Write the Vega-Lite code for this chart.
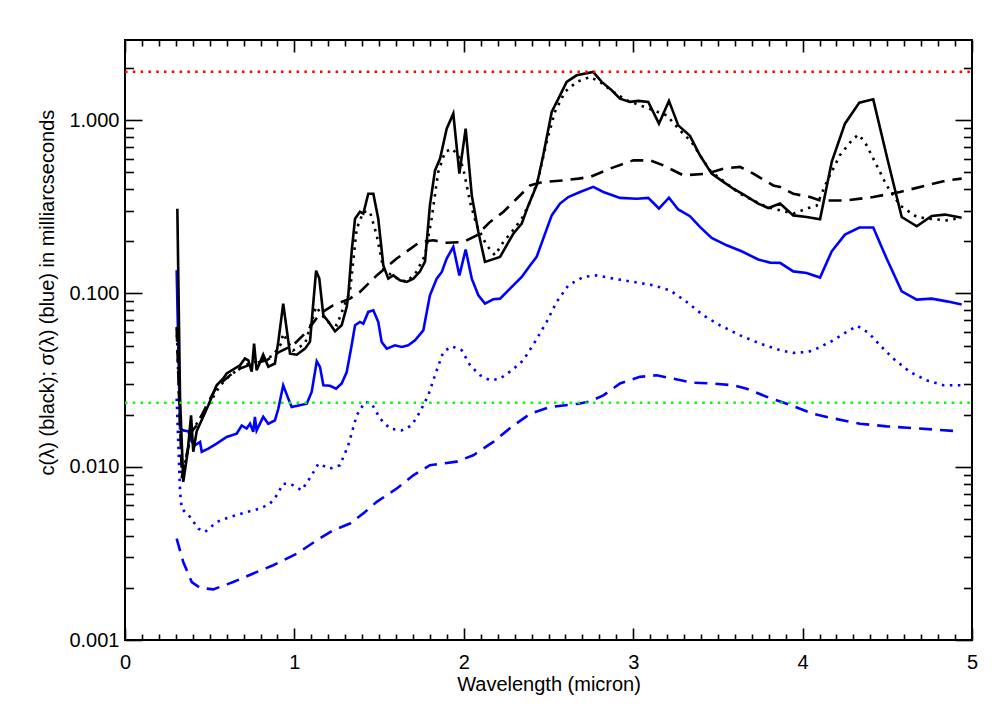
{
  "$schema": "https://vega.github.io/schema/vega-lite/v6.json",
  "width": 847,
  "height": 600,
  "autosize": {"type": "none"},
  "padding": {"left": 125, "top": 40, "right": 36, "bottom": 80},
  "background": "white",
  "config": {
    "view": {"stroke": "black", "strokeWidth": 2},
    "font": "Liberation Sans",
    "axis": {
      "labelFont": "Liberation Sans",
      "titleFont": "Liberation Sans",
      "labelFontSize": 20,
      "titleFontSize": 20,
      "titleFontWeight": "normal",
      "labelColor": "black",
      "titleColor": "black",
      "tickColor": "black",
      "tickWidth": 1.6,
      "grid": false,
      "domain": false,
      "labelOverlap": false,
      "labelFlush": false
    }
  },
  "datasets": {
    "c_solid": [
      {"lam": 0.309, "val": 0.308}, {"lam": 0.325, "val": 0.0247}, {"lam": 0.344, "val": 0.00817},
      {"lam": 0.370, "val": 0.0122}, {"lam": 0.390, "val": 0.0198}, {"lam": 0.403, "val": 0.0122},
      {"lam": 0.423, "val": 0.0160}, {"lam": 0.492, "val": 0.0226}, {"lam": 0.541, "val": 0.0295},
      {"lam": 0.579, "val": 0.0322}, {"lam": 0.600, "val": 0.0345}, {"lam": 0.679, "val": 0.0385},
      {"lam": 0.708, "val": 0.0421}, {"lam": 0.728, "val": 0.0411}, {"lam": 0.748, "val": 0.0354},
      {"lam": 0.762, "val": 0.0513}, {"lam": 0.777, "val": 0.0360}, {"lam": 0.816, "val": 0.0443},
      {"lam": 0.846, "val": 0.0378}, {"lam": 0.885, "val": 0.0394}, {"lam": 0.905, "val": 0.0527},
      {"lam": 0.934, "val": 0.0873}, {"lam": 0.974, "val": 0.0449}, {"lam": 1.014, "val": 0.0443},
      {"lam": 1.063, "val": 0.0480}, {"lam": 1.092, "val": 0.0527}, {"lam": 1.128, "val": 0.1354},
      {"lam": 1.147, "val": 0.1217}, {"lam": 1.171, "val": 0.0747}, {"lam": 1.200, "val": 0.0688},
      {"lam": 1.240, "val": 0.0604}, {"lam": 1.279, "val": 0.0655}, {"lam": 1.309, "val": 0.0839},
      {"lam": 1.318, "val": 0.0975}, {"lam": 1.338, "val": 0.174}, {"lam": 1.358, "val": 0.270},
      {"lam": 1.387, "val": 0.296}, {"lam": 1.407, "val": 0.289}, {"lam": 1.436, "val": 0.376},
      {"lam": 1.466, "val": 0.376}, {"lam": 1.495, "val": 0.270}, {"lam": 1.525, "val": 0.145},
      {"lam": 1.554, "val": 0.1217}, {"lam": 1.584, "val": 0.127}, {"lam": 1.623, "val": 0.119},
      {"lam": 1.663, "val": 0.1165}, {"lam": 1.702, "val": 0.1217}, {"lam": 1.741, "val": 0.1336},
      {"lam": 1.771, "val": 0.1526}, {"lam": 1.800, "val": 0.322}, {"lam": 1.830, "val": 0.513},
      {"lam": 1.860, "val": 0.600}, {"lam": 1.899, "val": 0.893}, {"lam": 1.938, "val": 1.090},
      {"lam": 1.974, "val": 0.491}, {"lam": 2.011, "val": 0.893}, {"lam": 2.047, "val": 0.368},
      {"lam": 2.086, "val": 0.2264}, {"lam": 2.125, "val": 0.152}, {"lam": 2.214, "val": 0.1625},
      {"lam": 2.253, "val": 0.1895}, {"lam": 2.292, "val": 0.221}, {"lam": 2.342, "val": 0.253},
      {"lam": 2.381, "val": 0.322}, {"lam": 2.430, "val": 0.420}, {"lam": 2.469, "val": 0.627},
      {"lam": 2.519, "val": 1.115}, {"lam": 2.568, "val": 1.390}, {"lam": 2.607, "val": 1.661},
      {"lam": 2.666, "val": 1.814}, {"lam": 2.764, "val": 1.897}, {"lam": 2.814, "val": 1.661},
      {"lam": 2.873, "val": 1.486}, {"lam": 2.922, "val": 1.331}, {"lam": 2.981, "val": 1.274},
      {"lam": 3.030, "val": 1.291}, {"lam": 3.089, "val": 1.274}, {"lam": 3.152, "val": 0.954},
      {"lam": 3.211, "val": 1.291}, {"lam": 3.266, "val": 0.933}, {"lam": 3.335, "val": 0.811},
      {"lam": 3.394, "val": 0.627}, {"lam": 3.463, "val": 0.491}, {"lam": 3.532, "val": 0.440},
      {"lam": 3.591, "val": 0.402}, {"lam": 3.660, "val": 0.368}, {"lam": 3.738, "val": 0.330},
      {"lam": 3.798, "val": 0.311}, {"lam": 3.867, "val": 0.330}, {"lam": 3.945, "val": 0.282},
      {"lam": 4.024, "val": 0.276}, {"lam": 4.103, "val": 0.268}, {"lam": 4.172, "val": 0.574},
      {"lam": 4.250, "val": 0.954}, {"lam": 4.335, "val": 1.262}, {"lam": 4.417, "val": 1.318},
      {"lam": 4.500, "val": 0.600}, {"lam": 4.585, "val": 0.276}, {"lam": 4.674, "val": 0.244},
      {"lam": 4.762, "val": 0.280}, {"lam": 4.841, "val": 0.285}, {"lam": 4.939, "val": 0.273}
    ],
    "c_dotted": [
      {"lam": 0.305, "val": 0.0641}, {"lam": 0.335, "val": 0.00854}, {"lam": 0.394, "val": 0.0160},
      {"lam": 0.423, "val": 0.0177}, {"lam": 0.490, "val": 0.0225}, {"lam": 0.561, "val": 0.0294},
      {"lam": 0.620, "val": 0.0336}, {"lam": 0.697, "val": 0.0383}, {"lam": 0.797, "val": 0.0410},
      {"lam": 0.874, "val": 0.0437}, {"lam": 0.921, "val": 0.0513}, {"lam": 0.933, "val": 0.0586},
      {"lam": 0.992, "val": 0.0468}, {"lam": 1.063, "val": 0.0513}, {"lam": 1.128, "val": 0.0839},
      {"lam": 1.191, "val": 0.0688}, {"lam": 1.250, "val": 0.0655}, {"lam": 1.299, "val": 0.0873},
      {"lam": 1.328, "val": 0.1024}, {"lam": 1.368, "val": 0.2366}, {"lam": 1.407, "val": 0.296},
      {"lam": 1.446, "val": 0.296}, {"lam": 1.486, "val": 0.2164}, {"lam": 1.525, "val": 0.139},
      {"lam": 1.582, "val": 0.125}, {"lam": 1.663, "val": 0.1165}, {"lam": 1.722, "val": 0.1336},
      {"lam": 1.771, "val": 0.166}, {"lam": 1.810, "val": 0.270}, {"lam": 1.849, "val": 0.502},
      {"lam": 1.889, "val": 0.655}, {"lam": 1.929, "val": 0.685}, {"lam": 1.968, "val": 0.627},
      {"lam": 1.997, "val": 0.525}, {"lam": 2.037, "val": 0.337}, {"lam": 2.076, "val": 0.247},
      {"lam": 2.135, "val": 0.1895}, {"lam": 2.184, "val": 0.166}, {"lam": 2.233, "val": 0.198},
      {"lam": 2.283, "val": 0.2264}, {"lam": 2.342, "val": 0.270}, {"lam": 2.391, "val": 0.337},
      {"lam": 2.440, "val": 0.4596}, {"lam": 2.489, "val": 0.748}, {"lam": 2.538, "val": 1.115},
      {"lam": 2.597, "val": 1.455}, {"lam": 2.666, "val": 1.661}, {"lam": 2.745, "val": 1.775},
      {"lam": 2.804, "val": 1.661}, {"lam": 2.883, "val": 1.455}, {"lam": 2.962, "val": 1.301},
      {"lam": 3.040, "val": 1.217}, {"lam": 3.119, "val": 1.139}, {"lam": 3.198, "val": 1.066},
      {"lam": 3.276, "val": 0.873}, {"lam": 3.345, "val": 0.748}, {"lam": 3.394, "val": 0.627},
      {"lam": 3.453, "val": 0.513}, {"lam": 3.552, "val": 0.430}, {"lam": 3.631, "val": 0.376},
      {"lam": 3.709, "val": 0.344}, {"lam": 3.788, "val": 0.316}, {"lam": 3.867, "val": 0.3016},
      {"lam": 3.945, "val": 0.2888}, {"lam": 4.034, "val": 0.311}, {"lam": 4.083, "val": 0.321},
      {"lam": 4.142, "val": 0.440}, {"lam": 4.220, "val": 0.627}, {"lam": 4.290, "val": 0.764},
      {"lam": 4.329, "val": 0.825}, {"lam": 4.368, "val": 0.748}, {"lam": 4.427, "val": 0.574},
      {"lam": 4.496, "val": 0.420}, {"lam": 4.575, "val": 0.322}, {"lam": 4.674, "val": 0.276},
      {"lam": 4.772, "val": 0.268}, {"lam": 4.851, "val": 0.264}, {"lam": 4.929, "val": 0.273}
    ],
    "c_dashed": [
      {"lam": 0.305, "val": 0.0625}, {"lam": 0.336, "val": 0.00877}, {"lam": 0.394, "val": 0.0160},
      {"lam": 0.423, "val": 0.0173}, {"lam": 0.482, "val": 0.0226}, {"lam": 0.541, "val": 0.0290},
      {"lam": 0.620, "val": 0.0337}, {"lam": 0.679, "val": 0.0368}, {"lam": 0.756, "val": 0.0394},
      {"lam": 0.836, "val": 0.0411}, {"lam": 0.915, "val": 0.0462}, {"lam": 0.992, "val": 0.0502},
      {"lam": 1.073, "val": 0.0602}, {"lam": 1.151, "val": 0.0764}, {"lam": 1.228, "val": 0.0854},
      {"lam": 1.328, "val": 0.0933}, {"lam": 1.387, "val": 0.102}, {"lam": 1.486, "val": 0.127},
      {"lam": 1.604, "val": 0.159}, {"lam": 1.741, "val": 0.198}, {"lam": 1.820, "val": 0.2025},
      {"lam": 1.899, "val": 0.196}, {"lam": 1.997, "val": 0.198}, {"lam": 2.076, "val": 0.2164},
      {"lam": 2.155, "val": 0.2586}, {"lam": 2.233, "val": 0.295}, {"lam": 2.312, "val": 0.352},
      {"lam": 2.391, "val": 0.420}, {"lam": 2.469, "val": 0.440}, {"lam": 2.587, "val": 0.449},
      {"lam": 2.676, "val": 0.4596}, {"lam": 2.745, "val": 0.470}, {"lam": 2.863, "val": 0.525},
      {"lam": 3.001, "val": 0.586}, {"lam": 3.099, "val": 0.586}, {"lam": 3.178, "val": 0.548},
      {"lam": 3.296, "val": 0.480}, {"lam": 3.434, "val": 0.491}, {"lam": 3.532, "val": 0.525},
      {"lam": 3.631, "val": 0.537}, {"lam": 3.709, "val": 0.491}, {"lam": 3.827, "val": 0.420},
      {"lam": 3.867, "val": 0.412}, {"lam": 3.945, "val": 0.376}, {"lam": 4.044, "val": 0.360},
      {"lam": 4.103, "val": 0.344}, {"lam": 4.260, "val": 0.344}, {"lam": 4.417, "val": 0.360},
      {"lam": 4.575, "val": 0.385}, {"lam": 4.732, "val": 0.420}, {"lam": 4.851, "val": 0.449},
      {"lam": 4.939, "val": 0.4596}
    ],
    "s_solid": [
      {"lam": 0.305, "val": 0.136}, {"lam": 0.325, "val": 0.0166}, {"lam": 0.344, "val": 0.0162},
      {"lam": 0.374, "val": 0.0160}, {"lam": 0.394, "val": 0.0139}, {"lam": 0.413, "val": 0.0133},
      {"lam": 0.443, "val": 0.0139}, {"lam": 0.453, "val": 0.0122}, {"lam": 0.492, "val": 0.0127},
      {"lam": 0.541, "val": 0.0136}, {"lam": 0.600, "val": 0.01486}, {"lam": 0.659, "val": 0.0155},
      {"lam": 0.689, "val": 0.0173}, {"lam": 0.718, "val": 0.0166}, {"lam": 0.738, "val": 0.0177},
      {"lam": 0.757, "val": 0.0159}, {"lam": 0.767, "val": 0.0194}, {"lam": 0.777, "val": 0.0162},
      {"lam": 0.816, "val": 0.0194}, {"lam": 0.846, "val": 0.0177}, {"lam": 0.885, "val": 0.0185},
      {"lam": 0.905, "val": 0.0216}, {"lam": 0.934, "val": 0.0295}, {"lam": 0.964, "val": 0.0247},
      {"lam": 0.984, "val": 0.0221}, {"lam": 1.073, "val": 0.0231}, {"lam": 1.102, "val": 0.0270},
      {"lam": 1.132, "val": 0.0406}, {"lam": 1.151, "val": 0.0377}, {"lam": 1.171, "val": 0.0295},
      {"lam": 1.210, "val": 0.0293}, {"lam": 1.246, "val": 0.0282}, {"lam": 1.279, "val": 0.0302},
      {"lam": 1.309, "val": 0.0352}, {"lam": 1.338, "val": 0.0502}, {"lam": 1.358, "val": 0.0655},
      {"lam": 1.387, "val": 0.0685}, {"lam": 1.407, "val": 0.0669}, {"lam": 1.436, "val": 0.0782},
      {"lam": 1.466, "val": 0.0799}, {"lam": 1.495, "val": 0.0685}, {"lam": 1.515, "val": 0.0525},
      {"lam": 1.545, "val": 0.0480}, {"lam": 1.594, "val": 0.0502}, {"lam": 1.633, "val": 0.0491},
      {"lam": 1.672, "val": 0.0502}, {"lam": 1.712, "val": 0.0536}, {"lam": 1.761, "val": 0.0612},
      {"lam": 1.800, "val": 0.0975}, {"lam": 1.840, "val": 0.1217}, {"lam": 1.870, "val": 0.133},
      {"lam": 1.899, "val": 0.159}, {"lam": 1.938, "val": 0.1855}, {"lam": 1.974, "val": 0.127},
      {"lam": 2.011, "val": 0.179}, {"lam": 2.047, "val": 0.1217}, {"lam": 2.086, "val": 0.0975},
      {"lam": 2.125, "val": 0.0873}, {"lam": 2.174, "val": 0.0925}, {"lam": 2.214, "val": 0.0933},
      {"lam": 2.273, "val": 0.1066}, {"lam": 2.342, "val": 0.1245}, {"lam": 2.391, "val": 0.145},
      {"lam": 2.430, "val": 0.1625}, {"lam": 2.469, "val": 0.207}, {"lam": 2.519, "val": 0.282},
      {"lam": 2.568, "val": 0.330}, {"lam": 2.617, "val": 0.360}, {"lam": 2.686, "val": 0.385},
      {"lam": 2.764, "val": 0.412}, {"lam": 2.824, "val": 0.385}, {"lam": 2.922, "val": 0.356},
      {"lam": 3.021, "val": 0.352}, {"lam": 3.089, "val": 0.356}, {"lam": 3.152, "val": 0.309},
      {"lam": 3.211, "val": 0.357}, {"lam": 3.266, "val": 0.305}, {"lam": 3.335, "val": 0.279},
      {"lam": 3.394, "val": 0.242}, {"lam": 3.463, "val": 0.209}, {"lam": 3.552, "val": 0.1895},
      {"lam": 3.640, "val": 0.175}, {"lam": 3.738, "val": 0.157}, {"lam": 3.808, "val": 0.1506},
      {"lam": 3.867, "val": 0.150}, {"lam": 3.945, "val": 0.134}, {"lam": 4.024, "val": 0.1313},
      {"lam": 4.103, "val": 0.1234}, {"lam": 4.172, "val": 0.175}, {"lam": 4.250, "val": 0.2185},
      {"lam": 4.335, "val": 0.240}, {"lam": 4.417, "val": 0.240}, {"lam": 4.496, "val": 0.159},
      {"lam": 4.585, "val": 0.1028}, {"lam": 4.674, "val": 0.0921}, {"lam": 4.762, "val": 0.0933},
      {"lam": 4.851, "val": 0.090}, {"lam": 4.939, "val": 0.0862}
    ],
    "s_dotted": [
      {"lam": 0.305, "val": 0.0247}, {"lam": 0.325, "val": 0.00718}, {"lam": 0.335, "val": 0.00573},
      {"lam": 0.384, "val": 0.00513}, {"lam": 0.433, "val": 0.00439}, {"lam": 0.472, "val": 0.00420},
      {"lam": 0.541, "val": 0.00480}, {"lam": 0.620, "val": 0.00513}, {"lam": 0.718, "val": 0.00548},
      {"lam": 0.797, "val": 0.00573}, {"lam": 0.856, "val": 0.00612}, {"lam": 0.896, "val": 0.00684},
      {"lam": 0.934, "val": 0.00798}, {"lam": 0.974, "val": 0.00798}, {"lam": 1.043, "val": 0.00731},
      {"lam": 1.102, "val": 0.00892}, {"lam": 1.141, "val": 0.0104}, {"lam": 1.210, "val": 0.00975},
      {"lam": 1.269, "val": 0.0102}, {"lam": 1.318, "val": 0.0133}, {"lam": 1.368, "val": 0.0198},
      {"lam": 1.417, "val": 0.0237}, {"lam": 1.456, "val": 0.0231}, {"lam": 1.505, "val": 0.0190},
      {"lam": 1.564, "val": 0.0166}, {"lam": 1.633, "val": 0.0162}, {"lam": 1.692, "val": 0.0173},
      {"lam": 1.741, "val": 0.0207}, {"lam": 1.790, "val": 0.0258}, {"lam": 1.830, "val": 0.0337},
      {"lam": 1.879, "val": 0.0460}, {"lam": 1.929, "val": 0.0495}, {"lam": 1.988, "val": 0.0470},
      {"lam": 2.037, "val": 0.0385}, {"lam": 2.096, "val": 0.0337}, {"lam": 2.155, "val": 0.0315},
      {"lam": 2.214, "val": 0.0322}, {"lam": 2.283, "val": 0.0360}, {"lam": 2.351, "val": 0.0411},
      {"lam": 2.420, "val": 0.0525}, {"lam": 2.489, "val": 0.0685}, {"lam": 2.548, "val": 0.0893},
      {"lam": 2.617, "val": 0.1114}, {"lam": 2.706, "val": 0.1245}, {"lam": 2.785, "val": 0.127},
      {"lam": 2.883, "val": 0.1217}, {"lam": 3.001, "val": 0.1165}, {"lam": 3.119, "val": 0.1114},
      {"lam": 3.217, "val": 0.1042}, {"lam": 3.316, "val": 0.0893}, {"lam": 3.414, "val": 0.0747},
      {"lam": 3.512, "val": 0.0655}, {"lam": 3.631, "val": 0.0573}, {"lam": 3.749, "val": 0.0513},
      {"lam": 3.867, "val": 0.0470}, {"lam": 3.945, "val": 0.0454}, {"lam": 4.034, "val": 0.0460},
      {"lam": 4.083, "val": 0.0480}, {"lam": 4.181, "val": 0.0536}, {"lam": 4.260, "val": 0.0600},
      {"lam": 4.323, "val": 0.0649}, {"lam": 4.388, "val": 0.0594}, {"lam": 4.457, "val": 0.0502},
      {"lam": 4.535, "val": 0.0421}, {"lam": 4.634, "val": 0.0352}, {"lam": 4.732, "val": 0.0315},
      {"lam": 4.831, "val": 0.0295}, {"lam": 4.939, "val": 0.0295}
    ],
    "s_dashed": [
      {"lam": 0.305, "val": 0.00385}, {"lam": 0.344, "val": 0.00282}, {"lam": 0.394, "val": 0.00216},
      {"lam": 0.443, "val": 0.00200}, {"lam": 0.521, "val": 0.00196}, {"lam": 0.639, "val": 0.00216},
      {"lam": 0.757, "val": 0.00242}, {"lam": 0.875, "val": 0.00270}, {"lam": 1.014, "val": 0.00315},
      {"lam": 1.132, "val": 0.00376}, {"lam": 1.230, "val": 0.00430}, {"lam": 1.328, "val": 0.00470},
      {"lam": 1.417, "val": 0.00548}, {"lam": 1.486, "val": 0.00627}, {"lam": 1.604, "val": 0.00748},
      {"lam": 1.702, "val": 0.00892}, {"lam": 1.800, "val": 0.0102}, {"lam": 1.958, "val": 0.0107},
      {"lam": 2.056, "val": 0.01164}, {"lam": 2.174, "val": 0.0139}, {"lam": 2.283, "val": 0.0170},
      {"lam": 2.391, "val": 0.0202}, {"lam": 2.509, "val": 0.0221}, {"lam": 2.676, "val": 0.0231},
      {"lam": 2.745, "val": 0.0238}, {"lam": 2.824, "val": 0.0258}, {"lam": 2.922, "val": 0.0302},
      {"lam": 3.040, "val": 0.0330}, {"lam": 3.139, "val": 0.0337}, {"lam": 3.237, "val": 0.0322},
      {"lam": 3.355, "val": 0.0305}, {"lam": 3.473, "val": 0.0302}, {"lam": 3.591, "val": 0.0295},
      {"lam": 3.670, "val": 0.0282}, {"lam": 3.788, "val": 0.0253}, {"lam": 3.906, "val": 0.0231},
      {"lam": 4.063, "val": 0.0202}, {"lam": 4.181, "val": 0.0190}, {"lam": 4.339, "val": 0.0177},
      {"lam": 4.496, "val": 0.0171}, {"lam": 4.653, "val": 0.0167}, {"lam": 4.890, "val": 0.0161}
    ],
    "upper_limit": [{"lam": 0, "val": 1.905}, {"lam": 5, "val": 1.905}],
    "lower_limit": [{"lam": 0, "val": 0.0234}, {"lam": 5, "val": 0.0234}]
  },
  "layer": [
    {
      "encoding": {
        "x": {
          "field": "lam",
          "type": "quantitative",
          "scale": {"domain": [0, 5], "nice": false, "zero": false},
          "axis": {
            "orient": "bottom",
            "values": [0,0.1,0.2,0.3,0.4,0.5,0.6,0.7,0.8,0.9,1,1.1,1.2,1.3,1.4,1.5,1.6,1.7,1.8,1.9,2,2.1,2.2,2.3,2.4,2.5,2.6,2.7,2.8,2.9,3,3.1,3.2,3.3,3.4,3.5,3.6,3.7,3.8,3.9,4,4.1,4.2,4.3,4.4,4.5,4.6,4.7,4.8,4.9,5],
            "tickSize": {"condition": {"test": "abs(datum.value - round(datum.value)) < 0.001", "value": -12}, "value": -6},
            "labelExpr": "abs(datum.value - round(datum.value)) < 0.001 ? format(datum.value, 'd') : ''",
            "labelPadding": 40,
            "labelBaseline": "alphabetic",
            "title": "Wavelength (micron)",
            "titleY": 50,
            "titleBaseline": "alphabetic"
          }
        },
        "y": {
          "field": "val",
          "type": "quantitative",
          "scale": {"type": "log", "domain": [0.001, 2.9], "nice": false},
          "axis": {
            "orient": "left",
            "values": [0.001,0.002,0.003,0.004,0.005,0.006,0.007,0.008,0.009,0.01,0.02,0.03,0.04,0.05,0.06,0.07,0.08,0.09,0.1,0.2,0.3,0.4,0.5,0.6,0.7,0.8,0.9,1,2],
            "tickSize": {"condition": {"test": "abs(log(datum.value)/LN10 - round(log(datum.value)/LN10)) < 0.001", "value": -17}, "value": -8.5},
            "labelExpr": "abs(log(datum.value)/LN10 - round(log(datum.value)/LN10)) < 0.001 ? format(datum.value, '.3f') : ''",
            "labelPadding": 23,
            "title": "c(λ) (black); σ(λ) (blue) in milliarcseconds",
            "titleX": -72,
            "titleY": 252,
            "titleBaseline": "alphabetic"
          }
        }
      },
      "layer": [
        {"data": {"name": "s_dashed"}, "mark": {"type": "line", "stroke": "#0000ff", "strokeWidth": 2.6, "strokeDash": [13, 8]}},
        {"data": {"name": "s_dotted"}, "mark": {"type": "line", "stroke": "#0000ff", "strokeWidth": 2.6, "strokeDash": [2.5, 5.5]}},
        {"data": {"name": "s_solid"}, "mark": {"type": "line", "stroke": "#0000ff", "strokeWidth": 2.6}},
        {"data": {"name": "c_dashed"}, "mark": {"type": "line", "stroke": "black", "strokeWidth": 2.6, "strokeDash": [13, 8]}},
        {"data": {"name": "c_dotted"}, "mark": {"type": "line", "stroke": "black", "strokeWidth": 2.6, "strokeDash": [2.5, 5.5]}},
        {"data": {"name": "c_solid"}, "mark": {"type": "line", "stroke": "black", "strokeWidth": 2.6}}
      ]
    },
    {
      "encoding": {
        "x": {
          "field": "lam",
          "type": "quantitative",
          "axis": {
            "orient": "top",
            "values": [0,0.1,0.2,0.3,0.4,0.5,0.6,0.7,0.8,0.9,1,1.1,1.2,1.3,1.4,1.5,1.6,1.7,1.8,1.9,2,2.1,2.2,2.3,2.4,2.5,2.6,2.7,2.8,2.9,3,3.1,3.2,3.3,3.4,3.5,3.6,3.7,3.8,3.9,4,4.1,4.2,4.3,4.4,4.5,4.6,4.7,4.8,4.9,5],
            "tickSize": {"condition": {"test": "abs(datum.value - round(datum.value)) < 0.001", "value": -12}, "value": -6},
            "labels": false,
            "title": null
          }
        },
        "y": {
          "field": "val",
          "type": "quantitative",
          "axis": {
            "orient": "right",
            "values": [0.001,0.002,0.003,0.004,0.005,0.006,0.007,0.008,0.009,0.01,0.02,0.03,0.04,0.05,0.06,0.07,0.08,0.09,0.1,0.2,0.3,0.4,0.5,0.6,0.7,0.8,0.9,1,2],
            "tickSize": {"condition": {"test": "abs(log(datum.value)/LN10 - round(log(datum.value)/LN10)) < 0.001", "value": -17}, "value": -8.5},
            "labels": false,
            "title": null
          }
        }
      },
      "layer": [
        {"data": {"name": "upper_limit"}, "mark": {"type": "line", "stroke": "#ff0000", "strokeWidth": 2.5, "strokeDash": [2.5, 5.3]}},
        {"data": {"name": "lower_limit"}, "mark": {"type": "line", "stroke": "#00ff00", "strokeWidth": 2.5, "strokeDash": [2.5, 5.3]}}
      ]
    }
  ],
  "resolve": {"axis": {"x": "independent", "y": "independent"}}
}
